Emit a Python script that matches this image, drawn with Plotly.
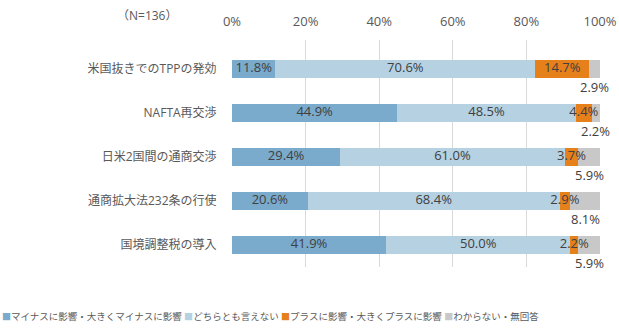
import plotly.graph_objects as go

categories = ["米国抜きでのTPPの発効", "NAFTA再交渉", "日米2国間の通商交渉", "通商拡大法232条の行使", "国境調整税の導入"]
series_names = ["マイナスに影響・大きくマイナスに影響", "どちらとも言えない", "プラスに影響・大きくプラスに影響", "わからない・無回答"]
minus_vals = [11.8, 44.9, 29.4, 20.6, 41.9]
neutral_vals = [70.6, 48.5, 61.0, 68.4, 50.0]
plus_vals = [14.7, 4.4, 3.7, 2.9, 2.2]
unknown_vals = [2.9, 2.2, 5.9, 8.1, 5.9]
colors = ["#7AAACC", "#B5D1E2", "#E6801A", "#C8C8C8"]
x_ticks = [0, 20, 40, 60, 80, 100]
n_label = "（N=136）"

FONT = "Open Sans, Noto Sans CJK JP, sans-serif"
all_vals = [minus_vals, neutral_vals, plus_vals, unknown_vals]

fig = go.Figure()
for name, vals, col in zip(series_names, all_vals, colors):
    fig.add_trace(go.Bar(
        y=categories, x=vals, name=name, orientation="h",
        marker=dict(color=col, line=dict(width=0)),
        showlegend=False, hoverinfo="skip"))

# inside labels for first three series (centered on segments)
lx, ly, lt = [], [], []
for i, cat in enumerate(categories):
    cum = 0
    for s in range(3):
        v = all_vals[s][i]
        lx.append(cum + v / 2)
        ly.append(cat)
        lt.append(f"{v:.1f}%")
        cum += v
fig.add_trace(go.Scatter(
    x=lx, y=ly, text=lt, mode="text", textposition="middle center",
    textfont=dict(family=FONT, size=13, color="#404040"),
    showlegend=False, hoverinfo="skip", cliponaxis=False))

# gray segment labels below bars
for i, cat in enumerate(categories):
    start = minus_vals[i] + neutral_vals[i] + plus_vals[i]
    fig.add_annotation(
        x=start + unknown_vals[i] / 2, y=cat, text=f"{unknown_vals[i]:.1f}%",
        showarrow=False, yshift=-18, xanchor="center", yanchor="middle",
        font=dict(family=FONT, size=13, color="#404040"))

fig.add_annotation(
    x=(147 - 232) / 368, y=(267 - 15) / 227, xref="paper", yref="paper",
    text=n_label, showarrow=False, xanchor="center", yanchor="middle",
    font=dict(family=FONT, size=12, color="#595959"))

legend_parts = []
for name, col in zip(series_names, colors):
    legend_parts.append(f'<span style="color:{col};font-size:9px">■</span>{name}')
fig.add_annotation(
    x=(0 - 232) / 368, y=(267 - 316) / 227, xref="paper", yref="paper",
    text=" ".join(legend_parts), showarrow=False, xanchor="left", yanchor="middle",
    font=dict(family=FONT, size=9.5, color="#595959"))

fig.update_layout(
    barmode="stack", bargap=0.6,
    width=619, height=332,
    margin=dict(l=232, r=19, t=40, b=65),
    plot_bgcolor="white", paper_bgcolor="white",
    font=dict(family=FONT, color="#595959"),
    xaxis=dict(side="top", range=[0, 100], tickvals=x_ticks,
               ticktext=[f"{t}%" for t in x_ticks], automargin=False,
               showgrid=True, gridcolor="#D9D9D9", gridwidth=1, zeroline=False,
               showline=False, ticks="outside", ticklen=8, tickcolor="rgba(0,0,0,0)",
               tickfont=dict(family=FONT, size=13, color="#595959"), fixedrange=True),
    yaxis=dict(autorange="reversed", showgrid=False, zeroline=False, showline=False,
               automargin=False,
               ticks="outside", ticklen=12, tickcolor="rgba(0,0,0,0)",
               tickfont=dict(family=FONT, size=12, color="#595959"), fixedrange=True),
)

fig.write_html("out.html")
